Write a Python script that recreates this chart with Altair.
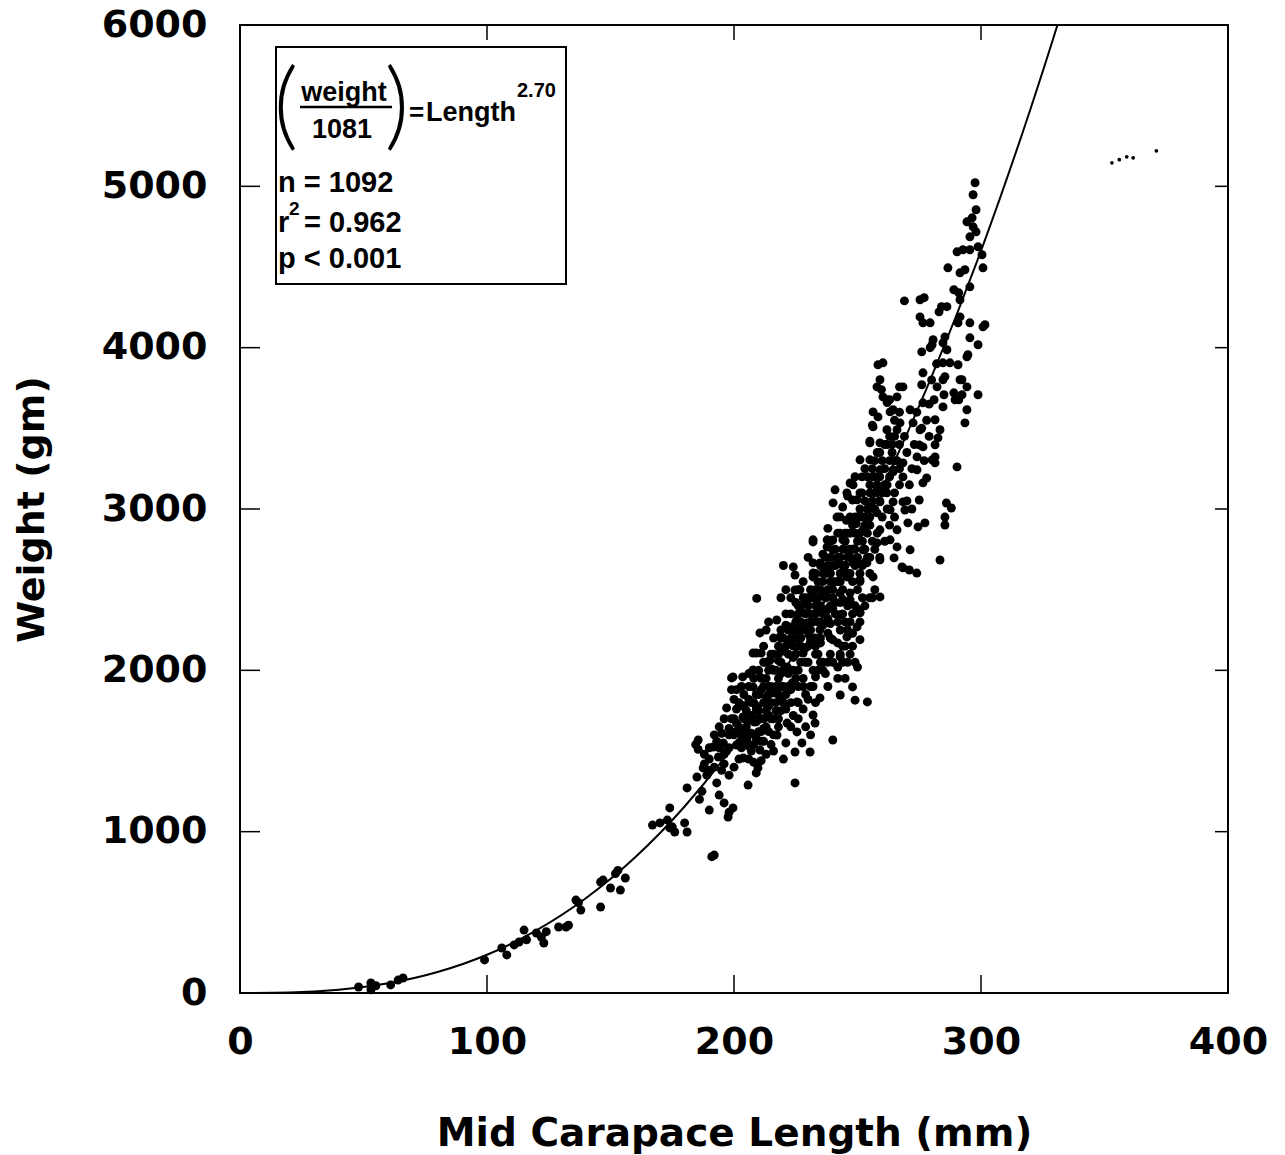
import altair as alt
import pandas as pd

# ---- data (Mid carapace length mm, weight gm) ----
small_fish = [(48,37),(53,62),(53,20),(55,45),(61,50),(66,93),(64,80),(99,205),(106,279),(108,236),
 (111,298),(113,316),(115,390),(116,330),(120,372),(122,347),(123,310),(124,380),(129,409),(132,409),
 (133,420),(136,576),(137,560),(138,514),(146,533),(146,688),(147,700),(150,651),(152,740),(153,760),
 (154,638),(156,713),(167,1041),(170,1054),(174,1023),(175,1030),(176,998),(181,998),(180,1054),
 (173,1072),(174,1147),(181,1271)]

band_a = [(184.5,1540),(185.5,1568),(185.5,1510),(185,1339),(187.5,1395),(186,1200),(187,1250),(189,1350),
 (188,1480),(190,1450),(190,1134),(190,1520),(191,845),(192,855),(191.6,1525),(192,1600),(193,1302),
 (193,1560),(193.7,1463),(194,1227),(194,1650),(195,1380),(195,1610),(195.7,1550),(196,1178),(196,1420),
 (196,1700),(197,1500),(197,1767),(197.6,1091),(198,1120),(198,1350),(198,1640),(198,1600),(199,1880),
 (199,1953),(199.6,1147),(199.6,1959),(200,1400),(200,1700),(200,1820),(201,1537),(201,1673),(201,1760),
 (201,1880),(202,1450),(202,1550),(202,1800),(203,1600),(203,1780),(203,1900),(203.5,1959),(203.6,1711),
 (203.8,1457),(204,1620),(204,1700),(204,1850),(205,1650),(205,1700),(205,1750),(205.2,1568),(205.7,1289),
 (206,1450),(206,1530),(206,1820),(206,1900),(206,1980),(207,1610),(207,1720),(207.7,1897),(207.7,2002),
 (207.7,2107),(208,1430),(208,1540),(208,1680),(208,1950),(209,1364),(209,1680),(209,1760),(209,1780),
 (209,2107),(209.2,2446),(209.7,1395),(210,1620),(210,1850),(210,2000),(210.5,1506),(210.5,1959),
 (210.5,2232),(211,1440),(211,1560),(211,1700),(211,1880),(211,2107),(212,1560),(212,1640),(212,1700),
 (212,2050),(212,2150),(213,1480),(213,1650),(213,1835),(213,1950),(213,2250),(214,1620),(214,1720),
 (214,1780),(214,1900),(214,2300),(214.6,2064),(215,1540),(215,1700),(215,1800),(215,2010)]

band_b = [(216,1500),(216,1600),(216,1860),(216,2000),(216,2200),(217,1800),(217,1900),(217.3,2312),
 (217.4,1599),(218,1650),(218,1700),(218,1950),(218,2060),(218,2100),(218.6,2207),(219,1750),(219,1820),
 (219,1980),(219,2200),(219,2250),(219,2450),(220,1450),(220,1900),(220,2000),(220,2120),(220,2650),
 (221,1550),(221,1760),(221,2280),(221,2350),(221,2500),(221.5,1673),(221.5,2021),(222,1980),(222,2100),
 (222,2180),(222.7,2269),(223,1650),(223,1800),(223,1880),(223,2350),(223,2450),(223.5,1921),(224,1720),
 (224,2000),(224,2080),(224,2641),(224.7,1302),(224.7,1494),(224.7,2498),(224.7,2591),(225,1950),
 (225,2300),(225,2420),(225.5,1618),(225.5,1804),(225.5,2313),(226,1700),(226,1800),(226,1900),(226,2000),
 (226,2150),(226,2400),(226,2500),(226.7,2499),(227,2050),(227,2200),(227,2300),(227.5,1550),(228,1760),
 (228,1900),(228,1950),(228,2107),(228,2355),(228,2550),(229,1650),(229,1850),(229,2140),(229,2250),
 (229,2350),(229.5,2294),(229.5,2417),(230,1820),(230,2050),(230,2150),(230,2700),(230.8,1494),
 (230.8,2207),(230.8,2455),(231,1600),(231,1900),(231,2180),(231,2250),(231,2300),(231,2450),(232,1723),
 (232,1900),(232,2000),(232,2579),(232,2603),(232,2666),(232,2796),(232,2809),(232.8,1673),(233,1800),
 (233,1960),(233,2100),(233,2150),(233,2200),(233,2350),(233,2500),(234,2000),(234,2100),(234,2300),
 (234.8,1829),(234.8,2251),(234.8,2375),(234.8,2666),(235,2050),(235,2170),(235,2200),(235,2300),(235,2400)]

band_c = [(236,2000),(236,2050),(236,2280),(236,2480),(236,2600),(236,2720),(237,1980),(237,2350),(237,2600),
 (237.7,2455),(237.7,2641),(237.7,2765),(237.7,2809),(238,1900),(238,2050),(238,2230),(238,2320),(238,2380),
 (238,2880),(238.9,2604),(239,2100),(239,2200),(239,2290),(239,2400),(239,2550),(239,2700),(240,1568),
 (240,2050),(240,2189),(240,2380),(240,2450),(240,2500),(240,2650),(240,2747),(240,2808),(240.1,3038),
 (240.9,3119),(241,2350),(241,2420),(241,2550),(241.7,2666),(241.7,2950),(242,1950),(242,2020),(242,2170),
 (242,2300),(242,2550),(242,2850),(242.9,2344),(242.9,2480),(242.9,2951),(243,1847),(243,2083),(243,2100),
 (243,2250),(243,2420),(243,2600),(243,2700),(244,2050),(244,2150),(244,2350),(244,2440),(244,2500),
 (244,2750),(244,3012),(244.1,2809),(245,1950),(245,2150),(245,2300),(245,2650),(245,2800),(245.5,2930),
 (245.7,2207),(245.7,2579),(245.7,2747),(245.7,3100),(246,2050),(246,2250),(246,2400),(246,2600),
 (246,2850),(246,3080),(247,2100),(247,2300),(247,2420),(247,2437),(247,2480),(247,2700),(247,2750),
 (247,2951),(247,3161),(248,1897),(248,2150),(248,2230),(248,2350),(248,2550),(248,2900),(248,3056),
 (248.2,2666),(248.2,2852),(248.2,3150),(249,1815),(249,2050),(249,2400),(249,2650),(249,2750),(249,3200),
 (249.5,2910),(249.8,2269),(249.8,3057),(250,2020),(250,2380),(250,2500),(250,2800),(250,2950),(251,2190),
 (251,2300),(251,2356),(251,2360),(251,2550),(251,2561),(251,2600),(251,2660),(251,3100),(251,3305),
 (251.8,3099),(251.8,3199),(252,2450),(252,2650),(252,2950),(252.2,2747),(252.2,2871),(253,2400),
 (253,2750),(253,2900),(253,3250),(253.5,2680),(253.8,2666),(254,1804),(254,2700),(254,2850),(254,3200),
 (255,2450),(255,2600),(255,2700),(255,2950),(255,3038),(255,3150),(255,3305),(255,3410),(255,3420),
 (256,2450),(256,2800),(256,3250),(256,3520),(256.3,2579),(256.3,3199),(256.3,3509),(256.3,3602)]

band_core = [(204,1550),(206,1600),(207,1500),(209,1580),(210,1700),(211,1620),(212,1800),(213,1750),
 (214,1850),(215,1900),(216,1700),(217,1750),(218,1850),(219,1900),(220,1800),(221,1850),(222,1900),
 (223,2000),(224,2150),(225,2100),(226,2250),(227,2150),(228,2250),(229,2050),(230,2250),(231,2350),
 (232,2300),(233,2400),(234,2450),(235,2500),(236,2350),(237,2450),(238,2500),(239,2600),(240,2550),
 (241,2650),(242,2700),(243,2550),(244,2650),(245,2600),(246,2700),(247,2600),(248,2750),(249,2850),
 (250,2700),(251,2850),(252,2800),(253,2950),(254,3000),(255,2900),(256,3050),(257,3100),(258,3150),
 (259,3200),(260,3100),(261,3250),(262,3150),(263,3300),(264,3400),(265,3450),(266,3300),(267,3250),
 (212,1900),(214,2000),(216,2100),(218,2150),(220,2200),(222,2250),(224,2250),(226,2350),(228,2450),
 (230,2400),(232,2450),(234,2550),(236,2550),(238,2650),(208,1800),(210,1750),(206,1700),(204,1780),
 (202,1650),(200,1600),(198,1520),(196,1480),(194,1520),(192,1400),(190,1380),(188,1420),
 (199,1700),(201,1620),(203,1520),(205,1620),(207,1800),(209,1850),(211,1950),(213,2050),(215,2100),
 (217,2000),(219,2050),(221,2150),(223,2200),(225,2200),(227,2400),(229,2450),(231,2500),(233,2600),
 (235,2650),(237,2700),(239,2800),(241,2750),(243,2850),(245,2850),(247,2850),(249,2950),(251,3000),
 (253,3050),(255,3100),(257,3200),(259,3350),(261,3400),(263,3450),(265,3550),(267,3600)]

large_fish = [(257,2500),(257,2750),(257,3000),(257,3300),(257.9,2790),(257.9,2976),(257.9,3137),(257.9,3757),
 (258,2850),(258,3350),(258.3,3571),(258.3,3894),(259,2700),(259,3050),(259.1,2455),(259.1,2685),
 (259.1,2871),(259.1,3044),(259.1,3243),(259.1,3410),(259.1,3801),(259.7,3740),(260,2950),(260,3300),
 (260.3,3695),(260.3,3906),(261,2800),(261,3150),(261.9,3100),(261.9,3491),(261.9,3677),(262,3000),
 (262,3400),(262,3660),(263,2900),(263,3200),(263,3677),(263.2,2809),(263.2,2995),(263.2,3602),(264,3350),
 (264.4,3044),(264.4,3230),(264.4,3243),(264.4,3615),(264.8,2697),(265,2950),(265,3100),(265,3300),
 (266,2765),(266,2871),(266,3491),(266,3695),(267,3150),(267,3400),(267,3757),(267.2,3534),(268,2641),
 (268.4,2635),(268.4,3044),(268.4,3199),(268.4,3286),(268.4,3757),(269,3450),(269,4290),(269.2,2994),
 (270,3050),(270,3350),(270.4,2914),(271,2622),(271,3150),(271.3,2747),(271.3,3615),(272,3000),(272,3250),
 (272.5,3534),(273,3400),(274,2603),(274,3600),(274.1,3243),(274.1,3323),(274.5,2889),(275,3056),
 (275,3397),(275.3,3491),(275.3,4191),(275.3,4297),(276,3500),(276,3770),(276,3974),(276.5,3162),
 (276.5,3385),(276.5,3658),(276.5,3844),(276.5,4154),(277,3300),(277,4310),(277.3,2914),(278,3192),
 (278,3550),(279,3450),(279,3650),(279.4,4000),(279.4,4154),(280,3800),(280.2,3304),(280.2,4018),
 (280.6,4049),(281,3677),(281.4,3286),(281.4,3323),(281.4,3398),(281.4,3553),(282,3900),(282.2,3757),
 (282.6,3441),(283,4222),(283.4,2684),(283.4,3491),(284,4254),(284.6,3633),(284.6,3801),(284.6,3906),
 (284.6,4030),(285,3708),(285.4,2901),(285.4,2950),(285.4,3820),(285.4,4067),(286,3037),(286.2,3987),
 (286.2,4254),(286.6,4495),(287.4,3906),(288,3006),(289,3720),(289,4359),(289.5,3677),(290.3,3261),
 (290.3,4594),(290.7,3894),(290.7,4154),(291,3677),(291,4340),(291.5,3801),(291.5,4191),(291.5,4297),
 (291.5,4464),(292.3,3708),(292.3,3801),(292.7,4607),(293.5,3534),(293.5,4483),(294.3,3615),(294.3,3757),
 (294.3,3943),(294.3,4780),(294.7,3956),(295.5,4061),(295.5,4154),(295.5,4377),(295.5,4607),(295.5,4687),
 (296.4,4805),(296.8,4749),(296.8,4948),(297.6,5022),(298,4718),(298,4855),(298.8,3708),(298.8,4018),
 (298.8,4625),(300.4,4576),(300.8,4129),(300.8,4495),(301.6,4142)]

stray_marks = [(353,5146),(356,5165),(359,5183),(361.6,5177),(371,5220)]

# fitted curve: weight vs length
curve_len = [0, 20, 40, 60, 80, 100, 120, 140, 160, 180, 200, 220, 240, 260, 280, 300, 320, 333, 340]
curve_wt  = [0, 3, 20, 60, 130, 237, 388, 587, 841, 1156, 1537, 1990, 2518, 3130, 3820, 4600, 5478, 6100, 6450]

x_ticks = [100, 200, 300]
y_ticks = [1000, 2000, 3000, 4000, 5000]

# ---- build ----
pts = pd.DataFrame(small_fish + band_a + band_b + band_c + band_core + large_fish, columns=["L", "W"])
stray = pd.DataFrame(stray_marks, columns=["L", "W"])
curve = pd.DataFrame({"L": curve_len, "W": curve_wt})
W_, H_ = 988, 968

xscale = alt.Scale(domain=[0, 400], nice=False, zero=False)
yscale = alt.Scale(domain=[0, 6000], nice=False, zero=False)
BIG = "DejaVu Sans"
SMALL = "Liberation Sans"

xaxis = alt.Axis(values=[0, 100, 200, 300, 400], format="d", labelFlush=False, ticks=False,
                 domain=False, grid=False,
                 labelFont=BIG, labelFontWeight="bold", labelFontSize=38, labelPadding=30,
                 labelColor="black", title="Mid Carapace Length (mm)", titleFont=BIG,
                 titleFontWeight="bold", titleFontSize=39, titleColor="black",
                 titleBaseline="alphabetic", titleY=152)
yaxis = alt.Axis(values=[0, 1000, 2000, 3000, 4000, 5000, 6000], format="d", labelFlush=False,
                 ticks=False, domain=False,
                 grid=False, labelFont=BIG, labelFontWeight="bold", labelFontSize=38,
                 labelPadding=33, labelColor="black", title="Weight (gm)", titleFont=BIG,
                 titleFontWeight="bold", titleFontSize=38, titleColor="black",
                 titleBaseline="alphabetic", titleX=-197)

X = alt.X("L:Q", scale=xscale, axis=xaxis)
Y = alt.Y("W:Q", scale=yscale, axis=yaxis)

points = alt.Chart(pts).mark_circle(size=80, color="black", opacity=1).encode(x=X, y=Y)
strays = alt.Chart(stray).mark_circle(size=14, color="black", opacity=1).encode(x=X, y=Y)
line = alt.Chart(curve).mark_line(color="black", strokeWidth=2, clip=True,
                                  interpolate="monotone").encode(x=X, y=Y)

xt = pd.DataFrame({"L": x_ticks})
yt = pd.DataFrame({"W": y_ticks})
tick_b = alt.Chart(xt).mark_rule(color="black", strokeWidth=1.5).encode(
    x=X, y=alt.value(H_), y2=alt.value(H_ - 18))
tick_t = alt.Chart(xt).mark_rule(color="black", strokeWidth=1.5).encode(
    x=X, y=alt.value(0), y2=alt.value(15))
tick_l = alt.Chart(yt).mark_rule(color="black", strokeWidth=1.5).encode(
    y=Y, x=alt.value(0), x2=alt.value(20))
tick_r = alt.Chart(yt).mark_rule(color="black", strokeWidth=1.5).encode(
    y=Y, x=alt.value(W_), x2=alt.value(W_ - 13))

one = pd.DataFrame({"k": [0]})
box = alt.Chart(one).mark_rect(fill="white", stroke="black", strokeWidth=2).encode(
    x=alt.value(36), x2=alt.value(326), y=alt.value(22), y2=alt.value(259))
bar = alt.Chart(one).mark_rule(color="black", strokeWidth=2.5).encode(
    x=alt.value(60), x2=alt.value(152), y=alt.value(82))


def txt(s, x, y, size, font=SMALL, weight="bold", align="left"):
    return alt.Chart(one).mark_text(text=s, font=font, fontSize=size, fontWeight=weight,
                                    align=align, baseline="alphabetic", color="black").encode(
        x=alt.value(x), y=alt.value(y))


texts = [
    txt("(", 46, 113, 96, font="Lato", weight=300, align="center"),
    txt(")", 157, 113, 96, font="Lato", weight=300, align="center"),
    txt("weight", 104, 76, 27, align="center"),
    txt("1081", 102, 113, 27, align="center"),
    txt("=", 169, 96, 26),
    txt("Length", 186, 96, 27),
    txt("2.70", 277, 72, 20),
    txt("n = 1092", 38, 167, 29),
    txt("r", 38, 207, 29),
    txt("2", 49, 190, 19),
    txt("= 0.962", 64, 207, 29),
    txt("p < 0.001", 38, 243, 29),
]

chart = alt.layer(points, strays, line, tick_b, tick_t, tick_l, tick_r, box, bar, *texts).properties(
    width=W_, height=H_,
    autosize=alt.AutoSizeParams(type="none"),
    padding={"left": 240, "top": 25, "right": 57, "bottom": 162},
    background="white",
).configure_view(stroke="black", strokeWidth=2)

chart.save("out.html", embed_options={"renderer": "svg", "actions": False})
